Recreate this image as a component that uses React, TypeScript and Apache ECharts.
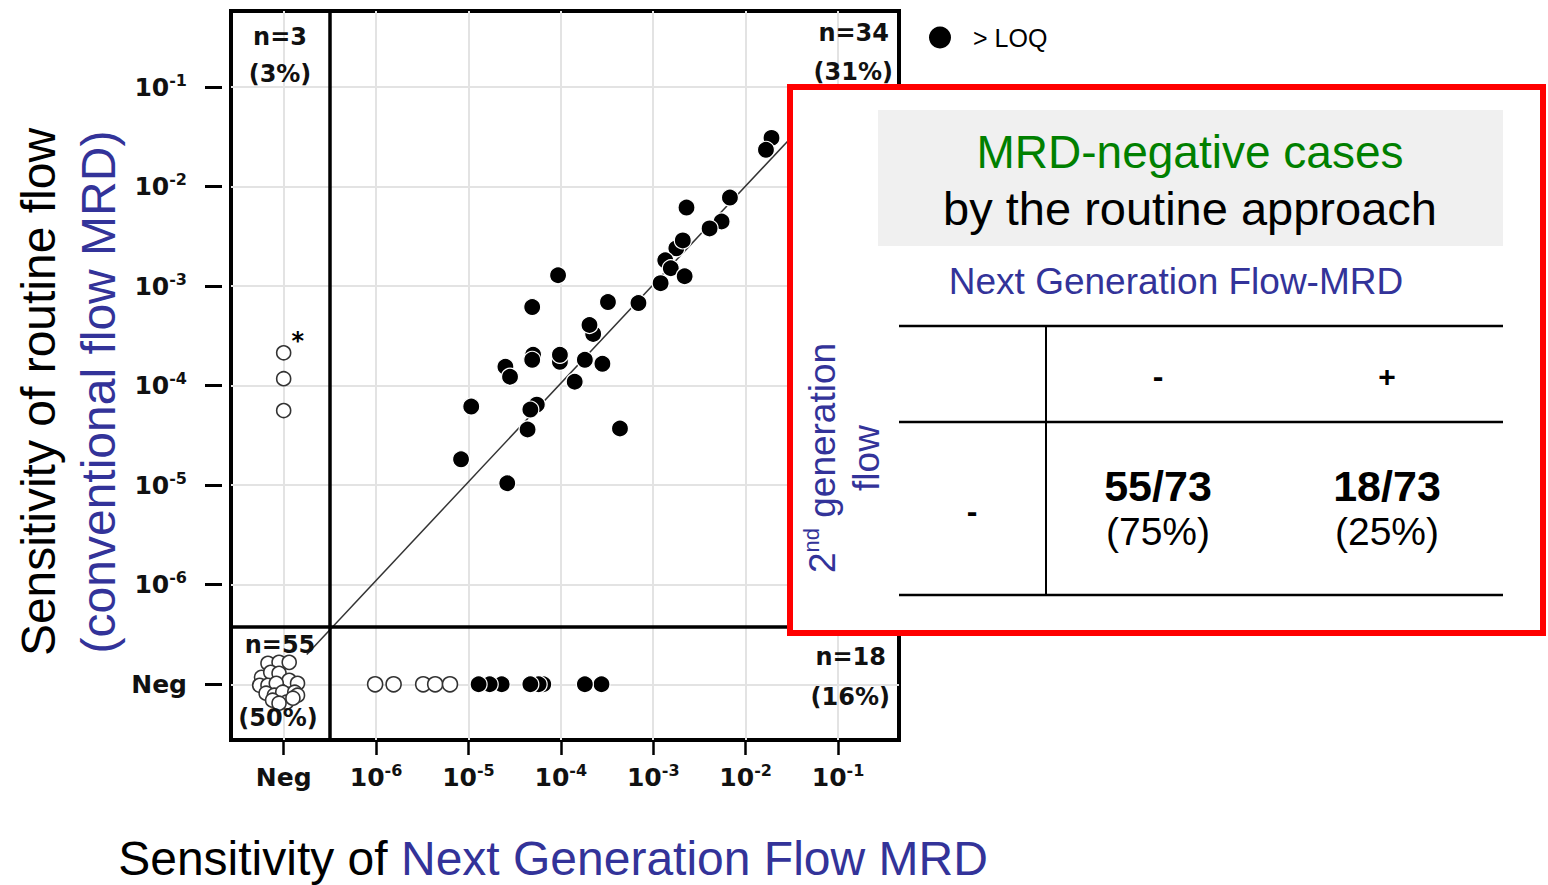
import { useEffect, useRef } from "react";
import * as echarts from "echarts";

const HAND_FONT = '"DejaVu Sans", "Noto Sans", sans-serif';
const SANS_FONT = '"Liberation Sans", Arial, sans-serif';
const BLUE = "#333399";
const GREEN = "#008000";

// Both axes run in decades (log10 of the MRD level); undetectable samples sit on "Neg".
const NEG = -7;
const DECADE_TICKS = [-7, -6, -5, -4, -3, -2, -1];
const X_RANGE = [-7.57, -0.34];
const Y_RANGE = [-7.56, -0.235];
// Borders between the Neg band and the quantifiable range
const NEG_LIMIT_X = -6.5;
const NEG_LIMIT_Y = -6.42;

// MRD quantified by both methods: [NGF-MRD, routine flow], back to front
const BOTH_POSITIVE: [number, number][] = [
  [-4.30, -3.69], [-4.26, -4.19], [-2.75, -2.62], [-4.01, -3.76], [-3.65, -3.48],
  [-1.72, -1.51], [-1.78, -1.63], [-2.17, -2.11], [-2.64, -2.21],
  [-2.26, -2.35], [-2.39, -2.42], [-2.68, -2.54], [-2.87, -2.74],
  [-2.81, -2.82], [-2.66, -2.90], [-2.92, -2.97], [-3.16, -3.17],
  [-4.03, -2.89], [-4.31, -3.21], [-3.49, -3.16], [-3.69, -3.39],
  [-4.31, -3.74], [-4.01, -3.69], [-3.74, -3.74], [-3.55, -3.78],
  [-4.60, -3.81], [-4.55, -3.91], [-3.85, -3.96], [-4.97, -4.21],
  [-4.33, -4.24], [-4.36, -4.44], [-3.36, -4.43], [-5.08, -4.74],
  [-4.58, -4.98],
];

// NGF-MRD positive, routine flow negative (NGF-MRD level)
const NGF_ONLY_BELOW_LOQ = [-6.01, -5.81, -5.49, -5.36, -5.20];
const NGF_ONLY_ABOVE_LOQ = [-3.56, -3.74, -4.19, -4.24, -4.33, -4.64, -4.77, -4.89];

// Routine flow positive, NGF-MRD negative (routine flow level)
const ROUTINE_ONLY = [-3.67, -3.93, -4.25];

// Negative by both methods, spread around the Neg/Neg corner
const BOTH_NEGATIVE: [number, number][] = [
  [-7.17, -6.79], [-7.05, -6.78], [-6.94, -6.78], [-7.24, -6.93],
  [-7.14, -6.88], [-7.05, -6.89], [-6.94, -6.96], [-6.85, -6.99],
  [-7.26, -7.01], [-7.17, -7.01], [-7.08, -6.99], [-7.19, -7.09],
  [-7.10, -7.11], [-7.01, -7.08], [-6.88, -7.08], [-6.85, -7.11],
  [-6.97, -7.18], [-7.12, -7.16], [-7.05, -7.19], [-6.90, -7.14],
];

// Agreement line between both methods
const FIT_LINE: [number, number][] = [[-6.75, -6.70], [-1.35, -1.35]];

// Quadrant counts: routine+/NGF-, both+, both-, NGF+/routine-
const QUADRANT_COUNTS = ["n=3", "n=34", "n=55", "n=18"];
const QUADRANT_SHARES = ["(3%)", "(31%)", "(50%)", "(16%)"];

// Inset table: routine-negative cases split by NGF-MRD
const TABLE_TITLE = "MRD-negative cases";
const TABLE_SUBTITLE = "by the routine approach";
const TABLE_COLUMN_TITLE = "Next Generation Flow-MRD";
const TABLE_HEADERS = ["-", "+"];
const TABLE_ROW_HEADER = "-";
const TABLE_COUNTS = ["55/73", "18/73"];
const TABLE_SHARES = ["(75%)", "(25%)"];

const decadeLabel = (v: number) => {
  const d = Math.round(v);
  return d === NEG ? "{neg|Neg}" : `{base|10}{sup|${d}}`;
};

const tickRich = {
  base: { fontFamily: HAND_FONT, fontSize: 25, fontWeight: "bold", color: "#111", lineHeight: 30 },
  sup: { fontFamily: HAND_FONT, fontSize: 16, fontWeight: "bold", color: "#111", lineHeight: 16, verticalAlign: "top" },
  neg: { fontFamily: HAND_FONT, fontSize: 25, fontWeight: "bold", color: "#111", lineHeight: 30 },
};

const handText = (text: string, x: number, y: number, align: string) => ({
  type: "text",
  x,
  y,
  z: 20,
  style: { text, fontFamily: HAND_FONT, fontSize: 24, fontWeight: "bold", fill: "#111", align, verticalAlign: "middle" },
});

const boxText = (text: string, x: number, y: number, size: number, fill: string, weight = "normal") => ({
  type: "text",
  x,
  y,
  z: 103,
  style: { text, fontFamily: SANS_FONT, fontSize: size, fontWeight: weight, fill, align: "center", verticalAlign: "middle" },
});

const boxLine = (x1: number, y1: number, x2: number, y2: number, w: number) => ({
  type: "line",
  z: 103,
  shape: { x1, y1, x2, y2 },
  style: { stroke: "#000", lineWidth: w },
});

function buildOption() {
  return {
    animation: false,
    backgroundColor: "#fff",
    textStyle: { fontFamily: SANS_FONT },
    legend: {
      data: ["> LOQ"],
      left: 924,
      top: 20,
      itemWidth: 22,
      itemHeight: 22,
      icon: "circle",
      itemStyle: { borderWidth: 0 },
      textStyle: { fontFamily: SANS_FONT, fontSize: 25, color: "#000", padding: [0, 0, 0, 17] },
    },
    grid: {
      left: 231,
      top: 11,
      width: 668,
      height: 729,
      show: true,
      borderColor: "#000",
      borderWidth: 4,
      backgroundColor: "transparent",
    },
    xAxis: {
      type: "value",
      min: X_RANGE[0],
      max: X_RANGE[1],
      splitNumber: 7,
      axisLine: { show: false },
      axisTick: { show: true, customValues: DECADE_TICKS, length: 15, lineStyle: { color: "#000", width: 2.5 } },
      axisLabel: { customValues: DECADE_TICKS, formatter: decadeLabel, rich: tickRich, margin: 22 },
      splitLine: { show: true, lineStyle: { color: "#e3e3e3", width: 2 } },
    },
    yAxis: {
      type: "value",
      min: Y_RANGE[0],
      max: Y_RANGE[1],
      splitNumber: 7,
      offset: 9,
      axisLine: { show: false },
      axisTick: { show: true, customValues: DECADE_TICKS, length: 17, lineStyle: { color: "#000", width: 3 } },
      axisLabel: { customValues: DECADE_TICKS, formatter: decadeLabel, rich: tickRich, margin: 35 },
      splitLine: { show: true, lineStyle: { color: "#e3e3e3", width: 2 } },
    },
    series: [
      {
        name: "fit",
        type: "line",
        data: FIT_LINE,
        symbol: "none",
        lineStyle: { color: "#333", width: 1.5 },
        z: 2,
        markLine: {
          silent: true,
          symbol: ["none", "none"],
          label: { show: false },
          lineStyle: { color: "#000", width: 3.5, type: "solid" },
          data: [{ xAxis: NEG_LIMIT_X }, { yAxis: NEG_LIMIT_Y }],
        },
      },
      {
        name: "Neg",
        type: "scatter",
        symbolSize: 14,
        itemStyle: { color: "#fff", borderColor: "#333", borderWidth: 1.6, opacity: 1 },
        z: 3,
        data: [
          ...BOTH_NEGATIVE,
          ...NGF_ONLY_BELOW_LOQ.map((x) => ({ value: [x, NEG], symbolSize: 15 })),
          ...ROUTINE_ONLY.map((y, i) => ({
            value: [NEG, y],
            label:
              i === 0
                ? {
                    show: true,
                    formatter: "*",
                    position: [22, -4],
                    align: "center",
                    verticalAlign: "middle",
                    fontFamily: HAND_FONT,
                    fontSize: 24,
                    fontWeight: "bold",
                    color: "#000",
                  }
                : { show: false },
          })),
        ],
      },
      {
        name: "> LOQ",
        type: "scatter",
        symbolSize: 17,
        itemStyle: { color: "#000", borderColor: "#fff", borderWidth: 1.2, opacity: 1 },
        z: 4,
        data: [...BOTH_POSITIVE, ...NGF_ONLY_ABOVE_LOQ.map((x) => [x, NEG])],
      },
    ],
    graphic: [
      // axis titles
      {
        type: "text",
        x: 68,
        y: 392,
        rotation: Math.PI / 2,
        style: {
          text: "{a|Sensitivity of routine flow}\n{b|(conventional flow MRD)}",
          rich: {
            a: { fontFamily: SANS_FONT, fontSize: 48, fill: "#000", color: "#000", lineHeight: 60 },
            b: { fontFamily: SANS_FONT, fontSize: 48, fill: BLUE, color: BLUE, lineHeight: 60 },
          },
          align: "center",
          verticalAlign: "middle",
        },
      },
      {
        type: "text",
        x: 553,
        y: 858,
        style: {
          text: "{a|Sensitivity of }{b|Next Generation Flow MRD}",
          rich: {
            a: { fontFamily: SANS_FONT, fontSize: 48, fill: "#000", color: "#000" },
            b: { fontFamily: SANS_FONT, fontSize: 48, fill: BLUE, color: BLUE },
          },
          align: "center",
          verticalAlign: "middle",
        },
      },
      // quadrant counts
      handText(QUADRANT_COUNTS[0], 280, 37, "center"),
      handText(QUADRANT_SHARES[0], 280, 74, "center"),
      handText(QUADRANT_COUNTS[1], 889, 33, "right"),
      handText(QUADRANT_SHARES[1], 893, 72, "right"),
      handText(QUADRANT_COUNTS[2], 280, 645, "center"),
      handText(QUADRANT_SHARES[2], 278, 718, "center"),
      handText(QUADRANT_COUNTS[3], 886, 657, "right"),
      handText(QUADRANT_SHARES[3], 890, 697, "right"),
      // inset summary table
      {
        type: "rect",
        z: 100,
        shape: { x: 790, y: 87, width: 753, height: 546 },
        style: { fill: "#fff", stroke: "#ff0000", lineWidth: 6 },
      },
      {
        type: "rect",
        z: 101,
        shape: { x: 878, y: 110, width: 625, height: 136 },
        style: { fill: "#f0f0f0" },
      },
      boxText(TABLE_TITLE, 1190, 152, 46, GREEN),
      boxText(TABLE_SUBTITLE, 1190, 208, 47, "#000"),
      boxText(TABLE_COLUMN_TITLE, 1176, 281, 37, BLUE),
      boxLine(899, 326, 1503, 326, 2.5),
      boxLine(899, 422, 1503, 422, 2.5),
      boxLine(899, 595, 1503, 595, 2.5),
      boxLine(1046, 326, 1046, 595, 2),
      boxText(TABLE_HEADERS[0], 1158, 376, 32, "#000", "bold"),
      boxText(TABLE_HEADERS[1], 1387, 376, 30, "#000", "bold"),
      boxText(TABLE_ROW_HEADER, 972, 511, 32, "#000", "bold"),
      boxText(TABLE_COUNTS[0], 1158, 486, 43, "#000", "bold"),
      boxText(TABLE_SHARES[0], 1158, 531, 39, "#000"),
      boxText(TABLE_COUNTS[1], 1387, 486, 43, "#000", "bold"),
      boxText(TABLE_SHARES[1], 1387, 531, 39, "#000"),
      {
        type: "text",
        x: 844,
        y: 458,
        z: 103,
        rotation: Math.PI / 2,
        style: {
          text: "{a|2}{s|nd}{a| generation}\n{a|flow}",
          rich: {
            a: { fontFamily: SANS_FONT, fontSize: 37, fill: BLUE, color: BLUE, lineHeight: 44 },
            s: { fontFamily: SANS_FONT, fontSize: 22, fill: BLUE, color: BLUE, lineHeight: 22, verticalAlign: "top" },
          },
          align: "center",
          verticalAlign: "middle",
        },
      },
    ],
  };
}

export default function App() {
  const ref = useRef<HTMLDivElement>(null);
  useEffect(() => {
    if (!ref.current) return;
    const chart = echarts.init(ref.current, null, { renderer: "svg" });
    chart.setOption(buildOption() as any);
    return () => chart.dispose();
  }, []);
  return (
    <div
      ref={ref}
      style={{ position: "absolute", left: 0, top: 0, width: 1548, height: 885, background: "#fff" }}
    />
  );
}
